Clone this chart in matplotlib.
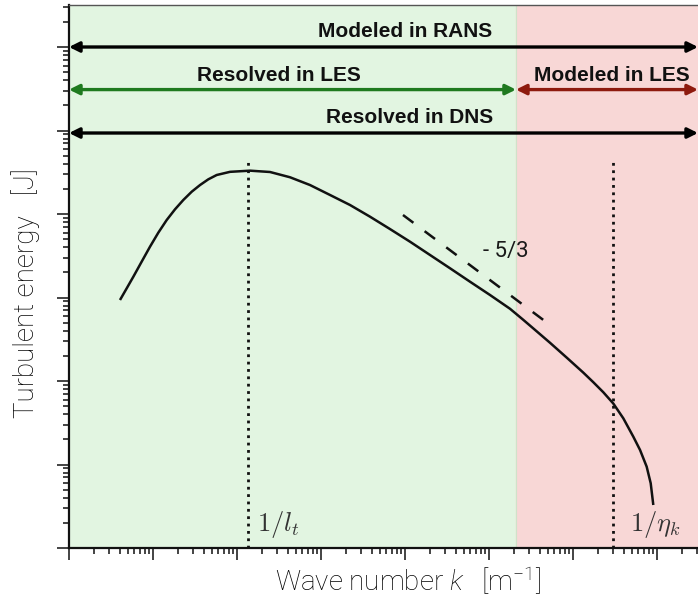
import numpy as np
import matplotlib
matplotlib.use("Agg")
import matplotlib.pyplot as plt
from matplotlib.ticker import LogLocator, NullFormatter

# spectrum (log10 k, log10 E)
curve_logk = [0.607, 0.687, 0.766, 0.865, 0.964, 1.063, 1.163, 1.262, 1.361, 1.461,
              1.560, 1.658, 1.758, 1.917, 2.155, 2.393, 2.631, 2.869, 3.107, 3.345,
              3.583, 3.821, 4.060, 4.298, 4.536, 4.774, 5.012, 5.250, 5.405, 5.527,
              5.726, 5.925, 6.123, 6.242, 6.361, 6.480, 6.599, 6.718, 6.798, 6.877,
              6.925, 6.956]
curve_logE = [2.970, 3.110, 3.249, 3.429, 3.608, 3.776, 3.928, 4.056, 4.168, 4.267,
              4.347, 4.415, 4.467, 4.505, 4.519, 4.503, 4.440, 4.347, 4.228, 4.108,
              3.968, 3.820, 3.668, 3.509, 3.350, 3.189, 3.030, 2.865, 2.735, 2.630,
              2.458, 2.280, 2.100, 1.985, 1.865, 1.730, 1.553, 1.333, 1.174, 0.974,
              0.775, 0.515]

# -5/3 guide line
slope_logk = [3.976, 5.679]
slope_logE = [3.988, 2.707]

# characteristic wave numbers and LES cut-off
k_lt = 10 ** 2.131
k_eta = 10 ** 6.476
k_cut = 10 ** 5.321
vline_top = 10 ** 4.67

# axis limits
k_min, k_max = 1.0, 10 ** 7.488
E_min, E_max = 1.0, 10 ** 6.503

# range arrows
arrow_labels = ["Modeled in RANS", "Resolved in LES", "Modeled in LES", "Resolved in DNS"]
arrow_start = [k_min, k_min, k_cut, k_min]
arrow_end = [k_max, k_cut, k_max, k_max]
arrow_level = [1e6, 10 ** 5.49, 10 ** 5.49, 10 ** 4.97]
text_k = [10 ** 4.0, 10 ** 2.5, 10 ** 6.464, 10 ** 4.06]
text_E = [10 ** 6.12, 10 ** 5.593, 10 ** 5.593, 10 ** 5.09]
arrow_colors = ["black", "#1f7a1f", "#8e1a0e", "black"]

plt.rcParams["mathtext.fontset"] = "custom"
plt.rcParams["mathtext.rm"] = "Roboto:light"
plt.rcParams["mathtext.it"] = "Roboto:italic:light"

fig = plt.figure(figsize=(6.98, 6.0), dpi=100)
ax = fig.add_axes([69 / 698, 52 / 600, 629 / 698, 543 / 600])
ax.set_xscale("log")
ax.set_yscale("log")
ax.set_xlim(k_min, k_max)
ax.set_ylim(E_min, E_max)

# coloured regions
ax.axvspan(k_min, k_cut, color="#e2f5e1", zorder=0)
ax.axvspan(k_cut, k_max, color="#f8d7d6", zorder=0)
ax.axvline(k_cut, color="#cfe3c9", lw=0.8, zorder=0.5)

# spectrum and guide line
ax.plot(10 ** np.array(curve_logk), 10 ** np.array(curve_logE), color="#111111", lw=1.8,
        solid_capstyle="butt", solid_joinstyle="round", zorder=3)
ax.plot(10 ** np.array(slope_logk), 10 ** np.array(slope_logE), color="#111111", lw=1.8,
        dashes=(5.2, 5.6), zorder=3)
ax.text(10 ** 5.202, 10 ** 3.545, "- 5/3", fontsize=16, color="#1a1a1a", family="Roboto",
        ha="center", va="center")

# characteristic scales
for kk in [k_lt, k_eta]:
    ax.plot([kk, kk], [E_min, vline_top], color="#111111", lw=2, ls=":", zorder=2)
ax.text(10 ** 2.238, 10 ** 0.2, r"$1/l_t$", math_fontfamily="cm", fontsize=19,
        color="#333333", ha="left", va="baseline")
ax.text(10 ** 6.68, 10 ** 0.2, r"$1/\eta_k$", math_fontfamily="cm", fontsize=19,
        color="#333333", ha="left", va="baseline")

for lab, k0, k1, lev, tk, te, col in zip(arrow_labels, arrow_start, arrow_end, arrow_level,
                                        text_k, text_E, arrow_colors):
    ax.annotate("", xy=(k1, lev), xytext=(k0, lev),
                arrowprops=dict(arrowstyle="<|-|>,head_length=0.6,head_width=0.3",
                                color=col, lw=2.4, shrinkA=0, shrinkB=0),
                annotation_clip=False, zorder=4)
    ax.text(tk, te, lab, fontsize=15, fontweight="bold", family="Liberation Sans",
            color="#111111", ha="center", va="baseline")

# axes styling
ax.set_xlabel(r"Wave number $k$   [m$^{\mathrm{-1}}$]", fontsize=20, family="Roboto",
              fontweight="light", color="black")
ax.set_ylabel("Turbulent energy   [J]", fontsize=20, family="Roboto",
              fontweight="light", color="black")
ax.xaxis.set_label_coords(0.539, -0.061)
ax.xaxis.label.set_verticalalignment("center")
ax.yaxis.set_label_coords(-0.046, 0.47)

for axis in [ax.xaxis, ax.yaxis]:
    axis.set_major_locator(LogLocator(base=10, numticks=20))
    axis.set_minor_locator(LogLocator(base=10, subs=np.arange(2, 10), numticks=20))
    axis.set_major_formatter(NullFormatter())
    axis.set_minor_formatter(NullFormatter())
ax.tick_params(which="major", direction="out", length=8.5, width=1.1, color="#111111")
ax.tick_params(which="minor", direction="out", length=4.5, width=1.1, color="#111111")

ax.spines["left"].set_linewidth(1.6)
ax.spines["bottom"].set_linewidth(1.6)
ax.spines["left"].set_color("#111111")
ax.spines["bottom"].set_color("#111111")
ax.spines["top"].set_linewidth(1.0)
ax.spines["top"].set_color("#555555")
ax.spines["right"].set_visible(False)

fig.savefig("out.png", dpi=100)
